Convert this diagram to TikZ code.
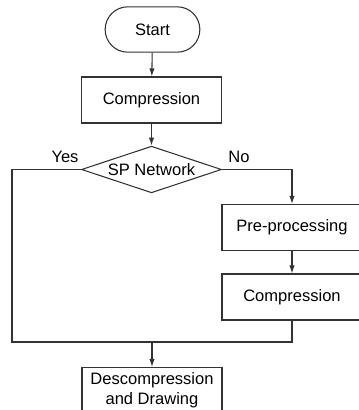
\documentclass[tikz,border=0pt]{standalone}
\usepackage{fontspec}
\setmainfont{Liberation Sans}
\usetikzlibrary{shapes.geometric,arrows.meta}

\begin{document}
\begin{tikzpicture}[x=0.75pt, y=-0.75pt,
        font=\fontsize{12.4}{15}\selectfont,
        line width=0.8pt,
        conn/.style={draw=black!80},
        procbox/.style={draw=black!80, rectangle, minimum width=105pt, minimum height=34.5pt, align=center},
        startbox/.style={draw=black!80, rectangle, rounded corners=16.9pt, minimum width=71pt, minimum height=34pt},
        decision/.style={draw=black!80, diamond, aspect=3, inner sep=0pt, minimum width=105pt, minimum height=35pt},
        flow/.style={conn, -{Latex[length=6pt, width=4pt]}}]
        \clip (0,0) rectangle (359,410);
        % main column
        \node[startbox] (start) at (152.5,29.5) {Start};
        \node[procbox] (comp) at (151.5,100) {Compression};
        \node[decision] (sp) at (151.5,169.5) {SP Network};
        % branch for No
        \node[procbox] (pre) at (292,227.5) {Pre-processing};
        \node[procbox] (comptwo) at (292,297) {Compression};
        \node[procbox] (desc) at (152,390.5) {Descompression\\and Drawing};
        \coordinate (join) at (152,342);
        \coordinate (lcorner) at (12,342);

        \draw[flow] (start) -- (comp);
        \draw[flow] (comp) -- (sp);
        \draw[flow] (sp.east) -| (pre.north);
        \draw[flow] (pre) -- (comptwo);
        \draw[conn] (sp.west) -| (lcorner) -- (comptwo.south |- join) -- (comptwo.south);
        \draw[flow] (join) -- (desc.north);

        \node (yes) at (65,157) {Yes};
        \node (no) at (239,157) {No};
    \end{tikzpicture}
\end{document}
